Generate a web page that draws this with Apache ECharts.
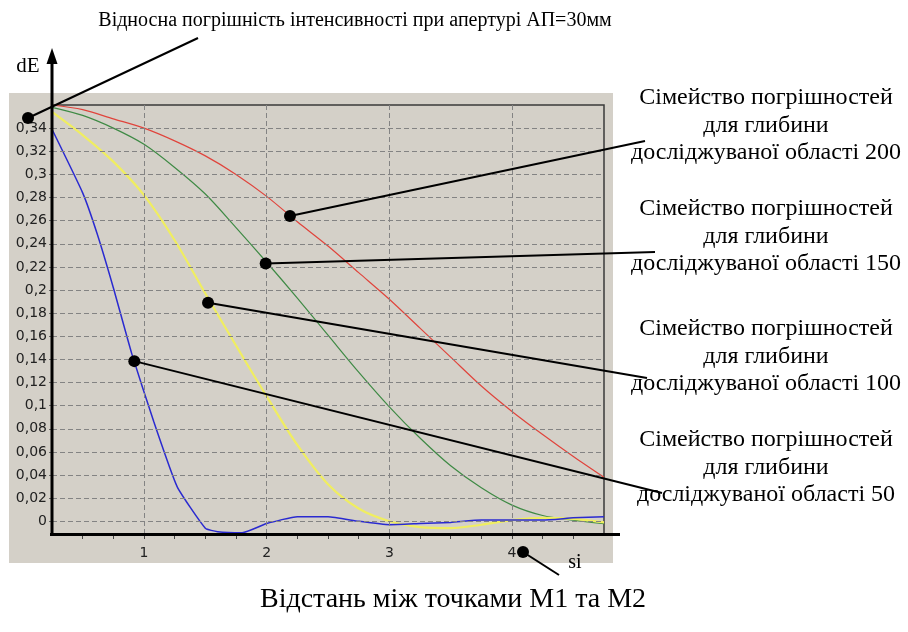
<!DOCTYPE html>
<html>
<head>
<meta charset="utf-8">
<script src="https://cdn.jsdelivr.net/npm/echarts@6/dist/echarts.min.js"></script>
<style>
html,body{margin:0;padding:0;background:#fff;}
#c{width:908px;height:632px;}
</style>
</head>
<body>
<div id="c"></div>
<script>
// ---- data ----
const siStep = [0.25,0.5,0.75,1.0,1.25,1.5,1.75,2.0,2.25,2.5,2.75,3.0,3.25,3.5,3.75,4.0,4.25,4.5,4.75];
const err200 = [0.360,0.356,0.348,0.340,0.329,0.316,0.300,0.281,0.259,0.238,0.215,0.192,0.167,0.142,0.117,0.095,0.075,0.056,0.038];
const err150 = [0.358,0.351,0.340,0.326,0.306,0.283,0.254,0.224,0.193,0.161,0.129,0.099,0.072,0.048,0.029,0.014,0.005,0.001,-0.002];
const err100 = [0.354,0.334,0.311,0.282,0.243,0.197,0.152,0.108,0.066,0.032,0.011,0.000,-0.005,-0.006,-0.003,0.001,0.003,0.002,-0.001];
const siBlue = [0.25,0.5,0.62,0.75,0.9,1.08,1.27,1.5,1.6,1.8,2.0,2.25,2.5,2.75,3.0,3.25,3.5,3.75,4.0,4.25,4.5,4.75];
const err50  = [0.339,0.284,0.248,0.202,0.145,0.086,0.030,-0.006,-0.009,-0.010,-0.002,0.004,0.004,0.000,-0.003,-0.002,-0.001,0.001,0.001,0.001,0.003,0.004];

const yTicks = [0,0.02,0.04,0.06,0.08,0.1,0.12,0.14,0.16,0.18,0.2,0.22,0.24,0.26,0.28,0.3,0.32,0.34];
const xTicks = [1,2,3,4];
const xMinorTicks = [0.5,0.75,1,1.25,1.5,1.75,2,2.25,2.5,2.75,3,3.25,3.5,3.75,4,4.25,4.5];

const titleText = 'Відносна погрішність інтенсивності при апертурі АП=30мм';
const bottomText = 'Відстань між точками М1 та М2';
const familyLines = [
  ['Сімейство погрішностей','для глибини','досліджуваної області 200'],
  ['Сімейство погрішностей','для глибини','досліджуваної області 150'],
  ['Сімейство погрішностей','для глибини','досліджуваної області 100'],
  ['Сімейство погрішностей','для глибини','досліджуваної області 50']
];
// points on curves where the pointer dots sit (data coords)
const pointerAt = [[2.19,0.264],[1.992,0.223],[1.522,0.189],[0.921,0.1385]];

const pairs = (xs, ys) => xs.map((x,i)=>[x,ys[i]]);
const fmt = v => String(Math.round(v*100)/100).replace('.', ',');
const gridStyle = {color:'#838383', type:[5,3], width:1};

const chart = echarts.init(document.getElementById('c'));
const option = {
  animation:false,
  backgroundColor:'#ffffff',
  grid:{left:52, top:105, right:304, bottom:98, show:true, backgroundColor:'#d4d0c8', borderColor:'#3a3a3a', borderWidth:1.5, z:1},
  xAxis:[{
    type:'value', min:0.25, max:4.75,
    axisLine:{show:false},
    axisTick:{show:false, customValues:xTicks},
    axisLabel:{customValues:xTicks, margin:12, color:'#222', fontFamily:'DejaVu Sans', fontSize:14, formatter:v=>String(v)},
    splitLine:{show:false}
  },{
    type:'value', min:0.25, max:4.75, position:'bottom',
    axisLine:{show:false},
    axisTick:{show:true, customValues:xMinorTicks, length:5, lineStyle:{color:'#444'}},
    axisLabel:{show:false},
    splitLine:{show:false}
  }],
  yAxis:{
    type:'value', min:-0.011, max:0.36,
    axisLine:{show:false},
    axisTick:{show:true, customValues:yTicks, length:3, lineStyle:{color:'#666'}},
    axisLabel:{customValues:yTicks, margin:5, color:'#222', fontFamily:'DejaVu Sans', fontSize:14, formatter:fmt},
    splitLine:{show:false}
  },
  series:[
    {type:'line', data:[], silent:true, z:2,
     markLine:{silent:true, symbol:['none','none'], label:{show:false}, lineStyle:gridStyle, animation:false,
       data: yTicks.map(v=>({yAxis:v})).concat(xTicks.map(v=>({xAxis:v})))}},
    {type:'line', data:pairs(siStep,err200), showSymbol:false, smooth:0.3, lineStyle:{color:'#e0443c', width:1.2}, z:3},
    {type:'line', data:pairs(siStep,err150), showSymbol:false, smooth:0.3, lineStyle:{color:'#3f8a45', width:1.2}, z:3},
    {type:'line', data:pairs(siStep,err100), showSymbol:false, smooth:0.3, lineStyle:{color:'#f0ee60', width:2.2}, z:3},
    {type:'line', data:pairs(siBlue,err50), showSymbol:false, smooth:0.15, lineStyle:{color:'#2a2ad0', width:1.5}, z:4}
  ]
};
chart.setOption(option);

const toPx = p => chart.convertToPixel({xAxisIndex:0, yAxisIndex:0}, p);
const serif = s => s + 'px "Liberation Serif"';
const g = [];
// gray panel behind everything
g.push({type:'rect', shape:{x:9,y:93,width:604,height:470}, style:{fill:'#d4d0c8'}, z:-10, silent:true});
// axes (thick black)
g.push({type:'line', shape:{x1:52,y1:535,x2:52,y2:60}, style:{stroke:'#000', lineWidth:3}, z:50});
g.push({type:'polygon', shape:{points:[[52,48],[46.5,64],[57.5,64]]}, style:{fill:'#000'}, z:50});
g.push({type:'line', shape:{x1:50,y1:534.5,x2:620,y2:534.5}, style:{stroke:'#000', lineWidth:3}, z:50});
// axis names
g.push({type:'text', style:{text:'dE', x:28, y:66, font:serif(21), fill:'#000', align:'center', verticalAlign:'middle'}, z:50});
g.push({type:'text', style:{text:'si', x:575, y:563, font:serif(20), fill:'#000', align:'center', verticalAlign:'middle'}, z:50});
// titles
g.push({type:'text', style:{text:titleText, x:355, y:21, font:serif(20), fill:'#000', align:'center', verticalAlign:'middle'}, z:50});
g.push({type:'text', style:{text:bottomText, x:453, y:600, font:serif(28), fill:'#000', align:'center', verticalAlign:'middle'}, z:50});
// title pointer
g.push({type:'line', shape:{x1:28,y1:118,x2:198,y2:38}, style:{stroke:'#000', lineWidth:2}, z:60});
g.push({type:'circle', shape:{cx:28,cy:118,r:6}, style:{fill:'#000'}, z:60});
// bottom pointer
g.push({type:'line', shape:{x1:523,y1:552,x2:559,y2:575}, style:{stroke:'#000', lineWidth:2}, z:60});
g.push({type:'circle', shape:{cx:523,cy:552,r:6}, style:{fill:'#000'}, z:60});
// family labels + pointers
const blockTop = [98, 209, 329, 440];
const lineEnds = [[645,141],[655,252],[647,378],[662,493]];
familyLines.forEach((lines, b) => {
  lines.forEach((t, i) => {
    g.push({type:'text', style:{text:t, x:766, y:blockTop[b]+i*27.5, font:serif(24), fill:'#000', align:'center', verticalAlign:'middle'}, z:50});
  });
  const p = toPx(pointerAt[b]);
  g.push({type:'line', shape:{x1:p[0],y1:p[1],x2:lineEnds[b][0],y2:lineEnds[b][1]}, style:{stroke:'#000', lineWidth:2}, z:60});
  g.push({type:'circle', shape:{cx:p[0],cy:p[1],r:6}, style:{fill:'#000'}, z:60});
});
chart.setOption({graphic:{elements:g}});
</script>
</body>
</html>
